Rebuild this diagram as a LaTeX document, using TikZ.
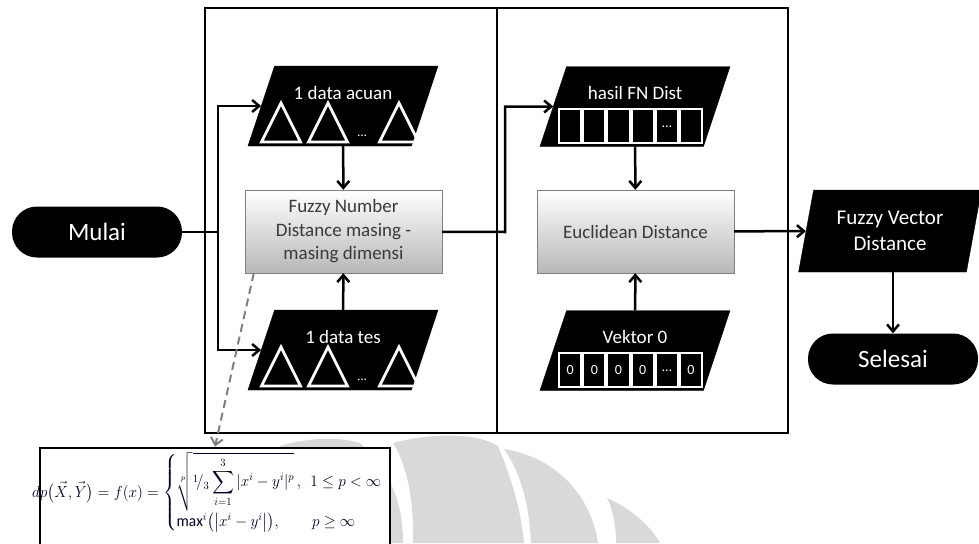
\documentclass[tikz,border=0pt]{standalone}
\usepackage{amsmath}
\usepackage{fontspec}
\setmainfont{Carlito}
\usetikzlibrary{shapes.geometric,arrows.meta}
\definecolor{procline}{HTML}{7F7F7F}
\definecolor{proctext}{HTML}{3A3A3A}
\definecolor{markgray}{HTML}{D9D9D9}
\tikzset{
 inputbox/.style={trapezium, trapezium left angle=79, trapezium right angle=101,
  trapezium stretches=true, fill=black, draw=black, minimum width=190pt,
  minimum height=80pt, inner sep=2pt},
 inputtext/.style={text=white, font=\fontsize{19}{23}\selectfont, inner sep=0pt},
 procbox/.style={rectangle, draw=procline, top color=white, bottom color=black!28,
  minimum width=197pt, minimum height=83pt, text=proctext, align=center,
  font=\fontsize{19}{23.5}\selectfont},
 terminal/.style={rectangle, rounded corners=25pt, fill=black, text=white,
  minimum width=170pt, minimum height=51pt, font=\fontsize{25}{30}\selectfont},
 panel/.style={draw=black, line width=2.8pt},
 flow/.style={line width=2.5pt, ->},
}
% segitiga fuzzy di dalam kotak data
\newcommand{\fuzzytris}[1]{%
 \foreach \tx in {-62,-15,56}
  \draw[white, line width=2.8pt, shift={(#1.center)}] (\tx-19.5,36) -- (\tx,-3) -- (\tx+19.5,36) -- cycle;
 \node[inputtext, font=\fontsize{13}{13}\selectfont] at ([shift={(19,30)}]#1.center) {\ldots};
}
% deretan sel vektor
\newcommand{\cellrow}[2]{%
 \fill[white, shift={(#1.center)}] (-77,1) rectangle (68,37);
 \foreach \t [count=\i from 0] in {#2} {
  \fill[black, shift={(#1.center)}] (-75+\i*24.17,3) rectangle (-75+\i*24.17+20.3,35);
  \node[inputtext, font=\fontsize{14}{14}\selectfont] at ([shift={(-64.85+\i*24.17,20)}]#1.center) {\t};
 }
}
\begin{document}
\begin{tikzpicture}[>={Straight Barb[length=7pt,width=12pt]}, x=1pt, y=-1pt]
 \useasboundingbox (0,0) rectangle (979,543);
 % logo samar di latar
 \fill[markgray] (280,446) .. controls (310,437) and (340,437) .. (360,443)
  .. controls (395,475) and (403,510) .. (403,543) -- (280,543) -- cycle;
 \fill[markgray] (393,443) .. controls (430,433) and (475,432) .. (498,446)
  .. controls (512,480) and (521,510) .. (524,543) -- (413,543)
  .. controls (414,500) and (407,465) .. (393,443) -- cycle;
 \fill[markgray] (504,449) .. controls (560,458) and (592,500) .. (598,543) -- (531,543)
  .. controls (529,500) and (519,470) .. (504,449) -- cycle;
 \fill[markgray] (607,498) .. controls (630,508) and (650,525) .. (660,543) -- (616,543)
  .. controls (616,525) and (613,510) .. (607,498) -- cycle;
 \draw[panel] (205,8) rectangle (497,433);
 \draw[panel] (497,8) rectangle (788,433);
 \node[terminal] (mulai) at (97,232) {Mulai};
 \node[inputbox] (acuan) at (343,106) {};
 \node[inputtext] (acuantext) at ([yshift=13pt]acuan.center) {1 data acuan};
 \fuzzytris{acuan}
 \node[procbox] (fn) at (343.5,231.5) {Fuzzy Number\\Distance masing -\\masing dimensi};
 \node[inputbox] (tes) at (343,350) {};
 \node[inputtext] (testext) at ([yshift=13pt]tes.center) {1 data tes};
 \fuzzytris{tes}
 \node[inputbox] (hasil) at (635,106.5) {};
 \node[inputtext] (hasiltext) at ([yshift=14pt]hasil.center) {hasil FN Dist};
 \cellrow{hasil}{{},{},{},{},\ldots,{}}
 \node[procbox] (euclid) at (635.5,231.5) {Euclidean Distance};
 \node[inputbox] (vektor) at (635,350.5) {};
 \node[inputtext] (vektortext) at ([yshift=14pt]vektor.center) {Vektor 0};
 \cellrow{vektor}{0,0,0,0,\ldots,0}
 \node[inputbox, trapezium left angle=76, trapezium right angle=104, minimum width=183pt,
  minimum height=82pt, text=white, align=center, font=\fontsize{21}{26}\selectfont]
  (fvd) at (890,231) {Fuzzy Vector\\Distance};
 \node[terminal] (selesai) at (893,359) {Selesai};
 \node[draw=black, line width=2.8pt, fill=white, minimum width=350pt, minimum height=112pt]
  (formula) at (215,504) {};
 \node[inner sep=0pt, text=black!85!blue] (formulatext) at (215,493)
  {\scalebox{1.06}[1.11]{\fontsize{14.5}{17}\selectfont $dp\bigl(\vec{X},\vec{Y}\bigr)=f(x)=\begin{cases}
   \sqrt[p]{{}^1\!/_3\displaystyle\sum_{i=1}^{3}|x^i-y^i|^p}\,,\ \ 1\le p<\infty\\[2pt]
   \max^i\bigl(\bigl|x^i-y^i\bigr|\bigr), \qquad p\ge\infty\end{cases}$}};
 % alur
 \coordinate (split) at (218,232);
 \coordinate (fnturn) at (505,232);
 \draw[line width=2.5pt] (mulai) -- (split);
 \draw[flow] (split) |- (acuan);
 \draw[flow] (split) |- (tes);
 \draw[flow] (acuan) -- (fn);
 \draw[flow] (tes) -- (fn);
 \draw[flow] (fn) -- (fnturn) |- (hasil);
 \draw[flow] (hasil) -- (euclid);
 \draw[flow] (vektor) -- (euclid);
 \draw[flow] (euclid) -- (fvd);
 \draw[flow] (fvd.south -| selesai.north) -- (selesai);
 \draw[flow, procline, line width=2pt, dash pattern=on 8pt off 5pt] ([xshift=9pt]fn.south west) -- (formula.north);
\end{tikzpicture}
\end{document}
